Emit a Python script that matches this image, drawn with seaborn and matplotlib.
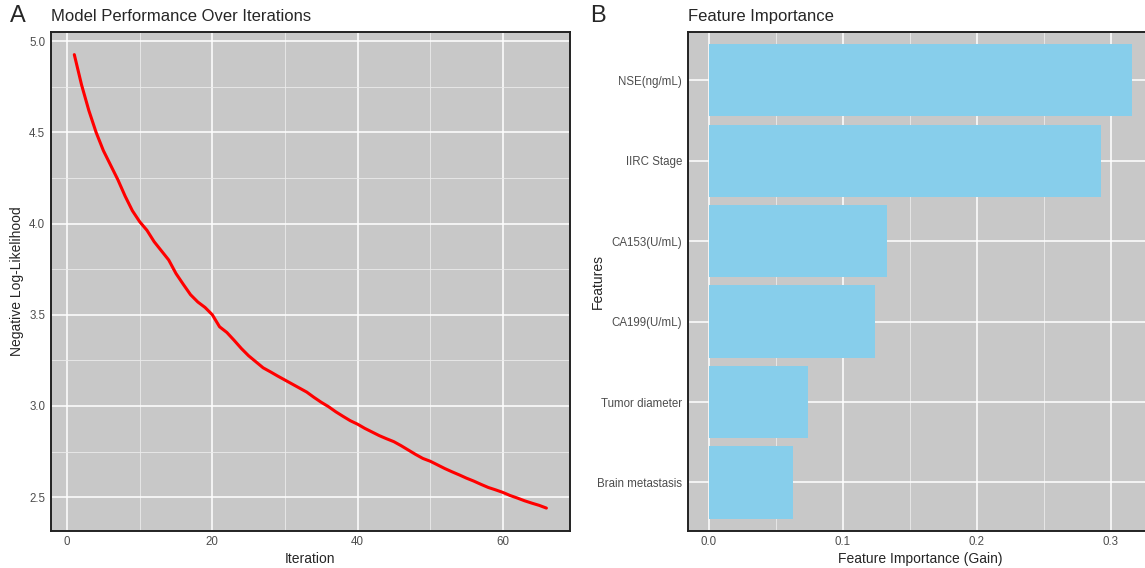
import numpy as np
import pandas as pd
import seaborn as sns
import matplotlib.pyplot as plt
from matplotlib.ticker import MultipleLocator

sns.set_style("white")
plt.rcParams['font.family'] = ['Liberation Sans', 'DejaVu Sans']

# %% data
iterations = list(range(1, 67))
neg_loglik = [4.926, 4.76, 4.62, 4.50, 4.40, 4.32, 4.24, 4.15, 4.07, 4.01,
              3.963, 3.90, 3.85, 3.80, 3.726, 3.667, 3.61, 3.57, 3.54, 3.50,
              3.434, 3.403, 3.36, 3.315, 3.275, 3.242, 3.209, 3.187, 3.164, 3.142,
              3.12, 3.098, 3.076, 3.047, 3.02, 2.996, 2.968, 2.943, 2.919, 2.900,
              2.877, 2.857, 2.837, 2.82, 2.804, 2.782, 2.758, 2.734, 2.712, 2.697,
              2.677, 2.657, 2.639, 2.622, 2.604, 2.588, 2.570, 2.553, 2.540, 2.526,
              2.509, 2.495, 2.480, 2.467, 2.455, 2.44]

features = ["NSE(ng/mL)", "IIRC Stage", "CA153(U/mL)", "CA199(U/mL)",
            "Tumor diameter", "Brain metastasis"]
gain = [0.3154, 0.2922, 0.133, 0.124, 0.074, 0.063]

df_loss = pd.DataFrame({"Iteration": iterations, "NLL": neg_loglik})
df_imp = pd.DataFrame({"Feature": features, "Gain": gain})

BG = "#C8C8C8"
TICK = "#4D4D4D"


def style_axes(ax):
    ax.set_facecolor(BG)
    ax.set_axisbelow(True)
    ax.grid(True, which="major", color="white", linewidth=1.1)
    ax.grid(True, which="minor", color="#EBEBEB", linewidth=0.6)
    for s in ax.spines.values():
        s.set_color("#222222")
        s.set_linewidth(1.4)
    ax.tick_params(which="both", length=0, colors=TICK, labelsize=8.3, pad=4)


fig = plt.figure(figsize=(11.45, 5.68), dpi=100)

# %% panel A
axA = fig.add_axes([50.7 / 1145, 37.3 / 568, 519.3 / 1145, 498.7 / 568])
sns.lineplot(data=df_loss, x="Iteration", y="NLL", color="red", linewidth=2.2, ax=axA)
axA.set_xlim(-2.25, 69.25)
axA.set_ylim(2.316, 5.05)
axA.xaxis.set_major_locator(MultipleLocator(20))
axA.xaxis.set_minor_locator(MultipleLocator(10))
axA.yaxis.set_major_locator(MultipleLocator(0.5))
axA.yaxis.set_minor_locator(MultipleLocator(0.25))
axA.yaxis.set_major_formatter(plt.FormatStrFormatter("%.1f"))
style_axes(axA)
axA.set_xlabel("Iteration", fontsize=10, labelpad=3)
axA.set_ylabel("Negative Log-Likelihood", fontsize=10)
axA.yaxis.set_label_coords(-(50.7 - 24) / 519.3, 0.5)
axA.set_title("Model Performance Over Iterations", loc="left", fontsize=12, pad=8)

# %% panel B
axB = fig.add_axes([687.8 / 1145, 37.3 / 568, 465.4 / 1145, 498.7 / 568])
sns.barplot(data=df_imp, x="Gain", y="Feature", orient="h", color="#87CEEB",
            saturation=1, width=0.9, linewidth=0, ax=axB)
axB.set_xlim(-0.0158, 0.3315)
axB.set_ylim(5.6, -0.6)
axB.xaxis.set_major_locator(MultipleLocator(0.1))
axB.xaxis.set_minor_locator(MultipleLocator(0.05))
axB.xaxis.set_major_formatter(plt.FormatStrFormatter("%.1f"))
style_axes(axB)
axB.set_xlabel("Feature Importance (Gain)", fontsize=10, labelpad=3)
axB.set_ylabel("Features", fontsize=10)
axB.yaxis.set_label_coords(-(687.8 - 605) / 465.4, 0.5)
axB.set_title("Feature Importance", loc="left", fontsize=12, pad=8)

fig.text(10 / 1145, 1 - 16 / 568, "A", fontsize=17, va="center", ha="left")
fig.text(590 / 1145, 1 - 16 / 568, "B", fontsize=17, va="center", ha="left")

fig.savefig("out.png", dpi=100, facecolor="white")
